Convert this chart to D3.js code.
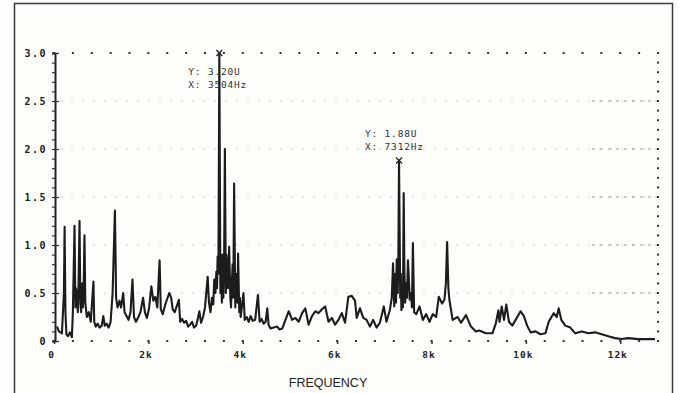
<!DOCTYPE html>
<html>
<head>
<meta charset="utf-8">
<script src="https://cdn.jsdelivr.net/npm/d3@7"></script>
<style>
  body { margin: 0; background: #fdfdfa; }
  svg { display: block; }
</style>
</head>
<body>
<div id="chart"></div>
<script>
// spectrum trace (Hz / amplitude U)
const freqHz = [63,105,168,210,225,242,263,295,337,379,400,435,453,465,484,505,520,541,558,575,589,600,610,625,646,663,695,737,779,836,853,884,926,968,1011,1046,1074,1116,1158,1200,1242,1291,1316,1347,1389,1421,1467,1495,1537,1579,1621,1663,1695,1737,1789,1832,1888,1926,1968,2011,2063,2105,2147,2189,2238,2263,2305,2358,2400,2442,2484,2516,2558,2600,2646,2674,2716,2758,2800,2842,2884,2926,2968,3011,3042,3080,3116,3158,3200,3257,3284,3316,3347,3375,3396,3421,3440,3455,3467,3484,3504,3526,3545,3558,3568,3589,3605,3621,3642,3655,3674,3690,3712,3725,3737,3752,3768,3785,3800,3817,3842,3858,3874,3888,3901,3926,3940,3955,3968,4015,4042,4084,4126,4168,4211,4263,4322,4358,4400,4442,4484,4520,4547,4589,4653,4731,4779,4836,4905,4975,5046,5116,5185,5257,5326,5396,5467,5537,5606,5678,5747,5817,5888,5958,6027,6099,6168,6238,6309,6379,6415,6484,6554,6625,6695,6764,6836,6905,6941,6989,7046,7116,7158,7185,7211,7235,7248,7263,7284,7298,7312,7337,7350,7362,7385,7395,7411,7425,7442,7463,7480,7501,7520,7537,7568,7585,7606,7632,7678,7747,7817,7888,7958,8027,8099,8154,8225,8274,8305,8331,8358,8379,8448,8554,8625,8731,8836,8941,9011,9152,9291,9362,9417,9442,9488,9537,9585,9642,9712,9783,9888,9958,10027,10099,10204,10309,10415,10484,10589,10653,10695,10751,10836,10941,11046,11185,11326,11467,11606,11747,11888,12027,12168,12379,12589,12737];
const amplitude = [0.15,0.10,0.08,0.50,1.19,0.30,0.07,0.05,0.09,0.04,0.30,1.20,0.35,0.55,0.50,0.30,0.60,1.25,0.40,0.30,0.55,0.60,0.35,0.45,1.10,0.40,0.25,0.30,0.20,0.62,0.20,0.15,0.18,0.14,0.16,0.26,0.16,0.18,0.14,0.20,0.50,1.36,0.45,0.35,0.42,0.35,0.50,0.30,0.26,0.22,0.30,0.64,0.25,0.20,0.25,0.30,0.45,0.30,0.24,0.33,0.57,0.42,0.46,0.35,0.84,0.33,0.28,0.38,0.44,0.50,0.45,0.33,0.30,0.36,0.43,0.20,0.23,0.19,0.21,0.15,0.17,0.20,0.14,0.16,0.22,0.31,0.19,0.25,0.35,0.67,0.40,0.30,0.45,0.38,0.64,0.50,0.72,0.55,0.88,0.70,3.20,0.50,0.65,0.40,0.90,0.45,0.80,2.00,0.50,0.90,0.75,0.55,0.98,0.70,0.45,0.35,0.60,0.80,0.45,1.64,0.35,0.70,0.50,0.40,0.91,0.30,0.45,0.25,0.30,0.50,0.22,0.25,0.20,0.26,0.21,0.22,0.48,0.20,0.23,0.18,0.20,0.34,0.17,0.13,0.14,0.15,0.12,0.13,0.22,0.31,0.22,0.24,0.20,0.29,0.34,0.17,0.26,0.31,0.29,0.33,0.36,0.20,0.24,0.17,0.22,0.29,0.19,0.46,0.47,0.42,0.24,0.34,0.24,0.22,0.15,0.22,0.14,0.19,0.26,0.36,0.20,0.32,0.45,0.81,0.36,0.70,0.40,0.85,0.50,0.90,1.88,0.45,0.70,0.32,0.55,0.35,1.54,0.75,0.40,0.60,0.45,0.84,0.65,0.43,0.50,0.35,1.02,0.30,0.28,0.36,0.22,0.28,0.20,0.28,0.25,0.46,0.39,0.43,0.60,1.03,0.55,0.43,0.22,0.25,0.19,0.27,0.15,0.10,0.11,0.08,0.08,0.18,0.32,0.20,0.36,0.22,0.38,0.20,0.16,0.22,0.31,0.26,0.16,0.09,0.10,0.07,0.08,0.20,0.29,0.25,0.34,0.22,0.16,0.14,0.08,0.10,0.08,0.09,0.07,0.05,0.03,0.02,0.03,0.02,0.02,0.02];

const xTickValues = [0, 2000, 4000, 6000, 8000, 10000, 12000];
const xTickLabels = ["0", "2k", "4k", "6k", "8k", "10k", "12k"];
const yTickValues = [0, 0.5, 1.0, 1.5, 2.0, 2.5, 3.0];
const yTickLabels = ["0", "0.5", "1.0", "1.5", "2.0", "2.5", "3.0"];

// cursor readouts
const markers = [
  { f: 3504, v: 3.20, lines: ["Y: 3.20U", "X: 3504Hz"], dx: -31, dy: 22 },
  { f: 7312, v: 1.88, lines: ["Y: 1.88U", "X: 7312Hz"], dx: -34, dy: -24 }
];

const width = 679, height = 393;

const svg = d3.select("#chart").append("svg")
  .attr("width", width)
  .attr("height", height);

const x = d3.scaleLinear().domain([0, 12800]).range([54, 658]);
const y = d3.scaleLinear().domain([0, 3]).range([341, 53]).clamp(true);

// outer frame (runs off the bottom like the scan)
svg.append("rect")
  .attr("x", 14.5).attr("y", 3.5)
  .attr("width", 658).attr("height", 420)
  .attr("fill", "none")
  .attr("stroke", "#3a3a3a")
  .attr("stroke-width", 1.5);

// faint grid rows
svg.append("g")
  .selectAll("line")
  .data(yTickValues.filter(v => v > 0 && v < 3))
  .join("line")
  .attr("x1", x(0) + 6).attr("x2", x(12800))
  .attr("y1", d => y(d)).attr("y2", d => y(d))
  .attr("stroke", "#cfcfcf")
  .attr("stroke-width", 1)
  .attr("stroke-dasharray", "2,9");

// darker dashes near the right edge of grid rows
svg.append("g")
  .selectAll("line")
  .data(yTickValues.filter(v => v > 0 && v < 3))
  .join("line")
  .attr("x1", x(11400)).attr("x2", x(12800))
  .attr("y1", d => y(d)).attr("y2", d => y(d))
  .attr("stroke", "#999")
  .attr("stroke-width", 1)
  .attr("stroke-dasharray", "3,5");

// dotted top / bottom frame of the plot
const xDots = d3.range(0, 12801, 400);
[0, 3].forEach(level => {
  svg.append("g")
    .selectAll("rect")
    .data(xDots)
    .join("rect")
    .attr("x", d => x(d) - 1)
    .attr("y", y(level) - 1)
    .attr("width", 2).attr("height", 2)
    .attr("fill", "#333");
});

// dotted right side
svg.append("g")
  .selectAll("rect")
  .data(d3.range(0, 31).map(i => i / 10))
  .join("rect")
  .attr("x", x(12800) - 1)
  .attr("y", d => y(d) - 1)
  .attr("width", 2).attr("height", 2)
  .attr("fill", "#333");

// x axis: ticks + labels, no solid domain line
const xAxis = svg.append("g")
  .attr("transform", `translate(0,${y(0)})`)
  .call(d3.axisBottom(x)
    .tickValues(xTickValues)
    .tickSize(3)
    .tickFormat((d, i) => xTickLabels[i]));
xAxis.select(".domain").remove();
xAxis.selectAll(".tick line").attr("stroke", "#333").attr("stroke-width", 1.5);
xAxis.selectAll(".tick text")
  .attr("y", 10).attr("dx", -3)
  .style("font-family", "'DejaVu Sans Mono', monospace")
  .style("font-weight", "bold")
  .style("font-size", "9.5px")
  .style("letter-spacing", "1px")
  .style("fill", "#222");

// y axis: solid left line with minor dashes
svg.append("g")
  .attr("transform", `translate(${x(0) + 1},0)`)
  .call(d3.axisLeft(y)
    .tickValues(d3.range(0, 31).map(i => i / 10))
    .tickSize(3)
    .tickFormat(""))
  .call(g => g.select(".domain").attr("stroke", "#222").attr("stroke-width", 2))
  .call(g => g.selectAll(".tick line").attr("stroke", "#333").attr("stroke-width", 1.2));

const yAxis = svg.append("g")
  .attr("transform", `translate(${x(0) + 1},0)`)
  .call(d3.axisLeft(y)
    .tickValues(yTickValues)
    .tickSize(0)
    .tickFormat((d, i) => yTickLabels[i]));
yAxis.select(".domain").remove();
yAxis.selectAll(".tick text")
  .attr("x", -8)
  .style("font-family", "'DejaVu Sans Mono', monospace")
  .style("font-weight", "bold")
  .style("font-size", "10px")
  .style("letter-spacing", "1.5px")
  .style("fill", "#222");
// major ticks poke to the right of the axis
yAxis.selectAll(".tick").append("line")
  .attr("x1", 0).attr("x2", 4)
  .attr("stroke", "#333").attr("stroke-width", 1.2);

// spectrum trace
const points = freqHz.map((f, i) => ({ f: f, v: amplitude[i] }));
const line = d3.line()
  .x(d => x(d.f))
  .y(d => y(d.v));

svg.append("path")
  .datum(points)
  .attr("d", line)
  .attr("fill", "none")
  .attr("stroke", "#1b1d1a")
  .attr("stroke-width", 2.1)
  .attr("stroke-linejoin", "round");

// cursor markers and readouts
markers.forEach(m => {
  const mx = x(m.f), my = y(m.v);
  svg.append("path")
    .attr("d", `M${mx - 3},${my - 3}L${mx + 3},${my + 3}M${mx + 3},${my - 3}L${mx - 3},${my + 3}`)
    .attr("stroke", "#222")
    .attr("stroke-width", 1.3);
  svg.append("g")
    .selectAll("text")
    .data(m.lines)
    .join("text")
    .attr("x", mx + m.dx)
    .attr("y", (d, i) => my + m.dy + i * 13)
    .text(d => d)
    .style("font-family", "'DejaVu Sans Mono', monospace")
    .style("font-size", "9.5px")
    .style("letter-spacing", "0.8px")
    .style("fill", "#333");
});

// axis title
svg.append("text")
  .attr("x", 328)
  .attr("y", 387)
  .attr("text-anchor", "middle")
  .text("FREQUENCY")
  .style("font-family", "'Liberation Sans', Arial, sans-serif")
  .style("font-size", "12.5px")
  .style("fill", "#222");
</script>
</body>
</html>
